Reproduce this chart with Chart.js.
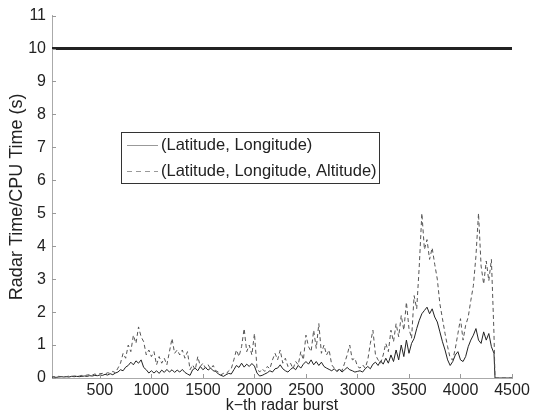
<!DOCTYPE html>
<html lang="en">
<head>
<meta charset="UTF-8">
<title>Radar Time / CPU Time</title>
<style>
    body { margin: 0; background: #fff; }
    #wrap { width: 533px; height: 415px; }
</style>
<script src="https://cdn.jsdelivr.net/npm/chart.js"></script>
</head>
<body>
<div id="wrap"><canvas id="chart" width="533" height="415"></canvas></div>
<script>
// bursts sampled every 25, from 25 to 4325
const burstStep = 25;

const latLon = [
    0.02, 0.03, 0.02, 0.03, 0.04, 0.03, 0.04, 0.03, 0.05, 0.04,
    0.05, 0.04, 0.05, 0.06, 0.05, 0.07, 0.06, 0.08, 0.07, 0.09,
    0.08, 0.11, 0.09, 0.13, 0.10, 0.15, 0.18, 0.25, 0.22, 0.33,
    0.38, 0.48, 0.40, 0.52, 0.45, 0.55, 0.32, 0.25, 0.15, 0.22,
    0.15, 0.22, 0.14, 0.24, 0.17, 0.26, 0.18, 0.25, 0.17, 0.24,
    0.18, 0.26, 0.17, 0.12, 0.08, 0.25, 0.30, 0.22, 0.35, 0.25,
    0.32, 0.24, 0.30, 0.22, 0.20, 0.12, 0.08, 0.05, 0.10, 0.14,
    0.12, 0.25, 0.38, 0.32, 0.45, 0.33, 0.42, 0.35, 0.44, 0.36,
    0.15, 0.06, 0.08, 0.12, 0.16, 0.22, 0.18, 0.28, 0.30, 0.40,
    0.28, 0.22, 0.18, 0.26, 0.32, 0.25, 0.38, 0.30, 0.42, 0.50,
    0.42, 0.55, 0.40, 0.50, 0.38, 0.48, 0.35, 0.30, 0.26, 0.22,
    0.28, 0.20, 0.26, 0.18, 0.25, 0.32, 0.25, 0.22, 0.18, 0.20,
    0.22, 0.18, 0.28, 0.35, 0.28, 0.42, 0.48, 0.38, 0.52, 0.42,
    0.60, 0.45, 0.70, 0.50, 0.85, 0.55, 1.00, 0.65, 1.15, 0.75,
    1.05, 1.20, 1.50, 1.75, 1.95, 2.05, 2.15, 1.95, 2.10, 1.85,
    1.70, 1.40, 1.10, 0.85, 0.55, 0.38, 0.50, 0.70, 0.80, 0.55,
    0.50, 0.65, 0.95, 1.15, 1.30, 1.50, 1.15, 1.05, 1.40, 1.15,
    1.35, 0.95, 0.75
];

const latLonAlt = [
    0.03, 0.04, 0.03, 0.05, 0.04, 0.05, 0.04, 0.06, 0.05, 0.06,
    0.07, 0.06, 0.08, 0.07, 0.09, 0.10, 0.09, 0.12, 0.10, 0.13,
    0.14, 0.12, 0.16, 0.14, 0.20, 0.16, 0.30, 0.45, 0.75, 0.60,
    1.00, 0.80, 1.30, 1.05, 1.55, 1.25, 1.10, 0.70, 0.85, 0.65,
    0.80, 0.40, 0.65, 0.45, 0.60, 0.40, 0.80, 1.20, 0.75, 0.85,
    0.70, 0.85, 0.60, 0.80, 0.25, 0.40, 0.25, 0.65, 0.35, 0.45,
    0.30, 0.40, 0.28, 0.38, 0.22, 0.18, 0.10, 0.14, 0.12, 0.22,
    0.28, 0.55, 0.85, 0.65, 0.95, 1.50, 0.80, 1.00, 0.70, 1.35,
    0.30, 0.18, 0.28, 0.20, 0.35, 0.28, 0.55, 0.75, 0.55, 0.85,
    0.45, 0.60, 0.35, 0.45, 0.28, 0.50, 0.40, 0.80, 0.55, 1.30,
    0.95, 0.80, 1.45, 0.90, 1.65, 0.75, 1.00, 0.70, 0.85, 0.40,
    0.30, 0.20, 0.30, 0.22, 0.45, 0.70, 1.00, 0.55, 0.60, 0.35,
    0.30, 0.40, 0.30, 0.55, 1.05, 1.45, 0.70, 0.55, 0.45, 0.70,
    1.05, 0.80, 1.45, 1.10, 1.65, 1.25, 1.90, 1.45, 2.30, 1.50,
    1.20, 2.50, 2.10, 3.40, 5.00, 3.90, 4.20, 3.60, 3.95, 3.45,
    3.00, 2.25, 1.80, 1.35, 0.95, 0.60, 0.55, 0.90, 1.35, 1.80,
    1.15, 1.60, 1.85, 2.35, 2.80, 3.70, 5.00, 3.40, 2.85, 3.55,
    2.95, 3.60, 1.35
];

// after the last burst both traces sit at zero
const tailBursts = [4335, 4500];
const tailValues = [0, 0];

const realTimeLimit = 10;
const xRange = [35, 4500];
const xTicks = [500, 1000, 1500, 2000, 2500, 3000, 3500, 4000, 4500];
const yTicks = [0, 1, 2, 3, 4, 5, 6, 7, 8, 9, 10, 11];
const legendLabels = ['(Latitude, Longitude)', '(Latitude, Longitude, Altitude)'];

function toPoints(values) {
    const pts = values.map((v, i) => ({ x: burstStep * (i + 1), y: v }));
    tailBursts.forEach((k, i) => pts.push({ x: k, y: tailValues[i] }));
    return pts;
}

const textColor = '#222';
const family = '"Liberation Sans", Arial, sans-serif';
const font = { family: family, size: 16 };

// small tick marks pointing into the plot, matlab style
const innerTicks = {
    id: 'innerTicks',
    afterDatasetsDraw(chart) {
        const { ctx, chartArea, scales: { x, y } } = chart;
        ctx.save();
        ctx.strokeStyle = '#999';
        ctx.lineWidth = 1;
        ctx.beginPath();
        x.ticks.forEach(t => {
            const px = Math.round(x.getPixelForValue(t.value)) + 0.5;
            ctx.moveTo(px, chartArea.bottom);
            ctx.lineTo(px, chartArea.bottom - 4);
        });
        y.ticks.forEach(t => {
            const py = Math.round(y.getPixelForValue(t.value)) + 0.5;
            ctx.moveTo(chartArea.left, py);
            ctx.lineTo(chartArea.left + 4, py);
        });
        ctx.stroke();
        ctx.restore();
    }
};

// boxed legend inside the plot
const boxLegend = {
    id: 'boxLegend',
    afterDraw(chart) {
        const ctx = chart.ctx;
        const left = 121, top = 132, w = 258, h = 51;
        ctx.save();
        ctx.fillStyle = '#fff';
        ctx.fillRect(left, top, w, h);
        ctx.strokeStyle = '#333';
        ctx.lineWidth = 1;
        ctx.strokeRect(left + 0.5, top + 0.5, w, h);
        ctx.font = '16.5px ' + family;
        ctx.fillStyle = textColor;
        ctx.textBaseline = 'middle';
        legendLabels.forEach((label, i) => {
            const yy = top + 13.5 + i * 26;
            ctx.strokeStyle = '#999';
            ctx.setLineDash(i === 0 ? [] : [5, 4]);
            ctx.beginPath();
            ctx.moveTo(127, yy);
            ctx.lineTo(158, yy);
            ctx.stroke();
            ctx.fillText(label, 161, yy);
        });
        ctx.restore();
    }
};

new Chart(document.getElementById('chart').getContext('2d'), {
    type: 'line',
    data: {
        datasets: [
            {
                label: legendLabels[1],
                data: toPoints(latLonAlt),
                borderColor: '#555',
                borderWidth: 1,
                borderDash: [4, 3],
                pointRadius: 0,
                tension: 0
            },
            {
                label: legendLabels[0],
                data: toPoints(latLon),
                borderColor: '#222',
                borderWidth: 1,
                pointRadius: 0,
                tension: 0
            },
            {
                label: 'limit',
                data: [{ x: xRange[0], y: realTimeLimit }, { x: xRange[1], y: realTimeLimit }],
                borderColor: '#222',
                borderWidth: 3,
                pointRadius: 0
            }
        ]
    },
    options: {
        responsive: false,
        animation: false,
        layout: { padding: { left: 0, top: 14, right: 21, bottom: 0 } },
        plugins: { legend: { display: false }, tooltip: { enabled: false } },
        scales: {
            x: {
                type: 'linear',
                min: xRange[0],
                max: xRange[1],
                afterBuildTicks: s => { s.ticks = xTicks.map(v => ({ value: v })); },
                afterFit: s => { s.height = 37; },
                grid: { display: false, drawTicks: false },
                border: { color: '#aaa', width: 1 },
                ticks: { color: textColor, font: font, padding: 3, maxRotation: 0, callback: v => String(v) },
                title: {
                    display: true,
                    text: 'k\u2212th radar burst',
                    color: textColor,
                    font: font,
                    padding: { top: 0, bottom: 0 }
                }
            },
            y: {
                min: 0,
                max: 11,
                afterBuildTicks: s => { s.ticks = yTicks.map(v => ({ value: v })); },
                afterFit: s => { s.width = 52; },
                grid: { display: false, drawTicks: false },
                border: { color: '#aaa', width: 1 },
                ticks: { color: textColor, font: font, padding: 6, callback: v => String(v) },
                title: {
                    display: true,
                    text: 'Radar Time/CPU Time (s)',
                    color: textColor,
                    font: { family: family, size: 18 },
                    padding: { top: 6, bottom: 0 }
                }
            }
        }
    },
    plugins: [innerTicks, boxLegend]
});
</script>
</body>
</html>
